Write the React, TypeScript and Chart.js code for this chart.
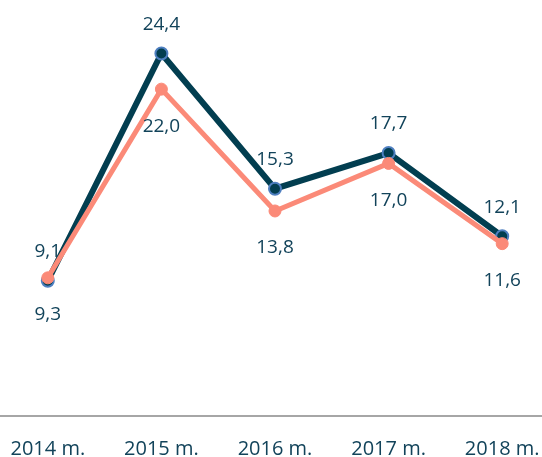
import React, { useEffect, useRef } from "react";
import { Chart, registerables } from "chart.js";

Chart.register(...registerables);

const categories = ["2014 m.", "2015 m.", "2016 m.", "2017 m.", "2018 m."];
const darkValues = [9.1, 24.4, 15.3, 17.7, 12.1];
const salmonValues = [9.3, 22.0, 13.8, 17.0, 11.6];
const darkLabels = ["9,1", "24,4", "15,3", "17,7", "12,1"];
const salmonLabels = ["9,3", "22,0", "13,8", "17,0", "11,6"];

const DARK = "#023e50";
const SALMON = "#fb8a78";
const TEXT = "#12435a";
const FONT = "'Open Sans', 'Noto Sans', sans-serif";

const labelPlugin = {
  id: "valueLabels",
  afterDatasetsDraw(chart: any) {
    const ctx = chart.ctx;
    ctx.save();
    ctx.font = `19px ${FONT}`;
    ctx.fillStyle = TEXT;
    ctx.textAlign = "center";
    ctx.textBaseline = "middle";
    chart.data.datasets.forEach((ds: any, i: number) => {
      const meta = chart.getDatasetMeta(i);
      const labels: string[] = ds.valueLabels;
      const dy: number = ds.labelOffset;
      meta.data.forEach((pt: any, j: number) => {
        ctx.fillText(labels[j], pt.x, pt.y + dy);
      });
    });
    ctx.restore();
  },
};

export default function App() {
  const ref = useRef<HTMLCanvasElement>(null);
  useEffect(() => {
    const chart = new Chart(ref.current!, {
      type: "line",
      data: {
        labels: categories,
        datasets: [
          {
            data: salmonValues,
            borderColor: SALMON,
            backgroundColor: SALMON,
            borderWidth: 5,
            pointRadius: 6,
            pointBackgroundColor: SALMON,
            pointBorderColor: SALMON,
            pointBorderWidth: 1,
            tension: 0,
            order: 0,
            valueLabels: salmonLabels,
            labelOffset: 37,
          } as any,
          {
            data: darkValues,
            borderColor: DARK,
            backgroundColor: DARK,
            borderWidth: 6,
            pointRadius: 6,
            pointBackgroundColor: DARK,
            pointBorderColor: "#4e7fc0",
            pointBorderWidth: 2,
            tension: 0,
            order: 1,
            valueLabels: darkLabels,
            labelOffset: -29,
          } as any,
        ],
      },
      options: {
        animation: false,
        responsive: false,
        maintainAspectRatio: false,
        layout: { padding: 0, autoPadding: false },
        plugins: {
          legend: { display: false },
          tooltip: { enabled: false },
        },
        scales: {
          x: {
            offset: true,
            grid: { display: false, drawTicks: false, offset: true },
            border: { display: true, color: "#a6a6a6", width: 2 },
            ticks: {
              color: TEXT,
              font: { family: FONT, size: 20 },
              padding: 21,
              maxRotation: 0,
              autoSkip: false,
            },
            afterFit: (scale: any) => {
              scale.paddingLeft = 0;
              scale.paddingRight = 0;
              scale.height = 41;
            },
          },
          y: {
            display: false,
            min: 0,
            max: 28,
          },
        },
      },
      plugins: [labelPlugin],
    });
    return () => chart.destroy();
  }, []);
  return (
    <div style={{ position: "absolute", left: -9, top: 0, width: 568, height: 457 }}>
      <canvas ref={ref} width={568} height={457} style={{ width: 568, height: 457 }} />
    </div>
  );
}
